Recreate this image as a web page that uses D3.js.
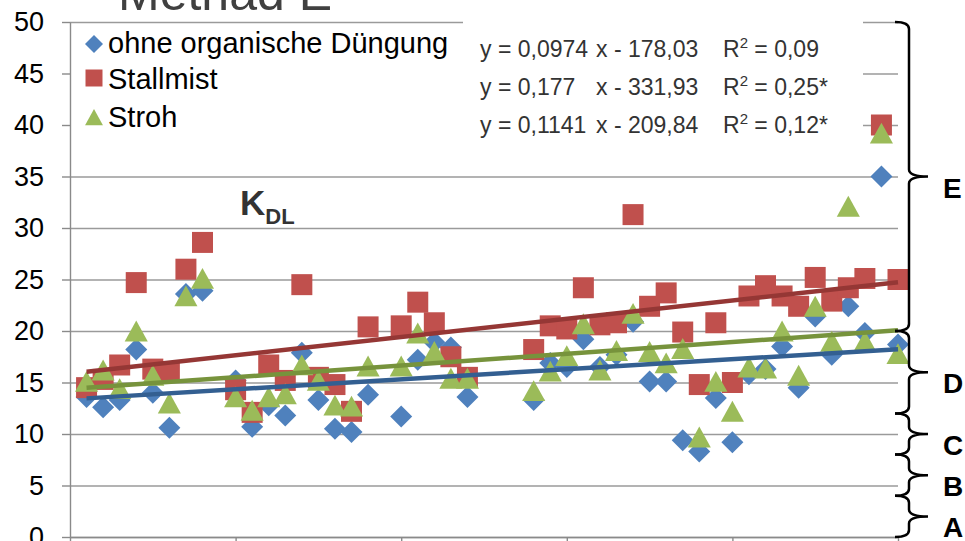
<!DOCTYPE html>
<html>
<head>
<meta charset="utf-8">
<script src="https://cdn.jsdelivr.net/npm/d3@7"></script>
<style>
  body { margin: 0; background: #fff; }
  svg { display: block; }
</style>
</head>
<body>
<div id="chart"></div>
<script>
//years with measurements (gaps 1974, 1984, 1990-1992)
var years = [1966, 1967, 1968, 1969, 1970, 1971, 1972, 1973,
  1975, 1976, 1977, 1978, 1979, 1980, 1981, 1982, 1983,
  1985, 1986, 1987, 1988, 1989,
  1993, 1994, 1995, 1996, 1997, 1998, 1999, 2000, 2001, 2002, 2003, 2004,
  2005, 2006, 2007, 2008, 2009, 2010, 2011, 2012, 2013, 2014, 2015];

//K_DL values per treatment
var ohneValues = [13.6, 12.6, 13.3, 18.2, 14.0, 10.6, 23.6, 23.9,
  15.2, 10.7, 12.8, 11.8, 17.9, 13.3, 10.5, 10.2, 13.8,
  11.7, 17.2, 18.9, 18.4, 13.6,
  13.3, 16.9, 16.5, 19.2, 16.5, 17.7, 20.9, 15.1, 15.1, 9.4, 8.3, 13.5,
  9.2, 15.8, 16.3, 18.5, 14.5, 21.4, 17.7, 22.4, 19.8, 35.0, 18.7];
var stallmistValues = [14.5, 15.3, 16.7, 24.7, 16.3, 16.0, 26.0, 28.6,
  14.3, 12.1, 16.7, 15.2, 24.5, 15.5, 14.8, 12.2, 20.4,
  20.5, 22.8, 20.8, 17.5, 15.5,
  18.2, 20.5, 20.2, 24.2, 20.6, 20.8, 31.3, 22.4, 23.7, 19.9, 14.8, 20.8,
  15.0, 23.4, 24.4, 23.4, 22.4, 25.2, 22.9, 24.2, 25.1, 40.0, 25.0];
var strohValues = [15.0, 16.1, 14.3, 19.9, 15.6, 12.9, 23.3, 25.0,
  13.5, 12.2, 13.5, 13.8, 16.6, 15.1, 12.7, 12.6, 16.5,
  16.5, 19.7, 17.9, 15.3, 15.3,
  14.1, 16.0, 17.5, 20.6, 16.1, 18.0, 21.6, 17.9, 16.8, 18.2, 9.6, 15.0,
  12.1, 16.4, 16.3, 19.9, 15.6, 22.3, 18.9, 32.0, 18.9, 39.1, 17.7];

var seriesNames = ["ohne organische Düngung", "Stallmist", "Stroh"];
var seriesSymbols = ["diamond", "square", "triangle"];
var seriesColors = ["#4F81BD", "#C0504D", "#9BBB59"];
var trendColors = ["#335F91", "#953735", "#77933C"];

//linear trends as printed on the chart
var slopes = [0.0974, 0.177, 0.1141];
var intercepts = [-178.03, -331.93, -209.84];
var slopeLabels = ["0,0974", "0,177", "0,1141"];
var interceptLabels = ["178,03", "331,93", "209,84"];
var r2Labels = ["0,09", "0,25*", "0,12*"];
var trendRange = [1966, 2015];

var yTicks = [0, 5, 10, 15, 20, 25, 30, 35, 40, 45, 50];
var xTicks = [1965, 1975, 1985, 1995, 2005, 2015];

//supply classes on the right
var classNames = ["A", "B", "C", "D", "E"];
var classBounds = [0, 4, 8, 12, 20, 50];

var width = 965, height = 541;

var svg = d3.select("#chart").append("svg")
  .attr("width", width)
  .attr("height", height);

var x = d3.scaleLinear().domain([1965, 2015]).range([70, 898]);
var y = d3.scaleLinear().domain([0, 50]).range([537, 22]);

//gridlines
svg.append("g")
  .attr("class", "grid")
  .attr("transform", "translate(70,0)")
  .call(d3.axisLeft(y).tickValues(yTicks).tickSize(-(898 - 70)).tickFormat(""))
  .call(function(g) { g.select(".domain").remove(); })
  .selectAll("line")
  .attr("stroke", "#9a9a9a")
  .attr("stroke-width", 1.4);

//white boxes of legend and equations hide the grid
svg.append("rect").attr("x", 71).attr("y", 24).attr("width", 393).attr("height", 116).attr("fill", "#fff");
svg.append("rect").attr("x", 463).attr("y", 0).attr("width", 400).attr("height", 140).attr("fill", "#fff");

//y axis
var yAxis = svg.append("g")
  .attr("transform", "translate(70,0)")
  .call(d3.axisLeft(y).tickValues(yTicks).tickSize(8).tickSizeOuter(0).tickPadding(18));
yAxis.selectAll("line").attr("stroke", "#8a8a8a").attr("stroke-width", 1.4);
yAxis.select(".domain").attr("stroke", "#8a8a8a").attr("stroke-width", 1.4);
yAxis.selectAll("text")
  .attr("font-family", "'Liberation Sans', Arial, sans-serif")
  .attr("font-size", 27)
  .attr("fill", "#000");

//x axis (labels fall outside the picture)
var xAxis = svg.append("g")
  .attr("transform", "translate(0,537)")
  .call(d3.axisBottom(x).tickValues(xTicks).tickSize(8).tickSizeOuter(0).tickFormat(""));
xAxis.selectAll("line").attr("stroke", "#8a8a8a").attr("stroke-width", 1.4);
xAxis.select(".domain").attr("stroke", "#8a8a8a").attr("stroke-width", 1.4);

//marker shapes
function markerPath(type, s) {
  if (type === "diamond") return "M0," + (-s) + "L" + s + ",0L0," + s + "L" + (-s) + ",0Z";
  if (type === "square") return "M" + (-s) + "," + (-s) + "h" + (2 * s) + "v" + (2 * s) + "h" + (-2 * s) + "Z";
  return "M0," + (-s * 1.05) + "L" + (s * 1.05) + "," + (s * 0.85) + "L" + (-s * 1.05) + "," + (s * 0.85) + "Z";
}

var allValues = [ohneValues, stallmistValues, strohValues];
var markerSizes = [11, 10.5, 11];

allValues.forEach(function(vals, k) {
  var pts = years.map(function(yr, i) { return {year: yr, value: vals[i]}; });
  svg.append("g")
    .attr("class", "series-" + k)
    .selectAll("path")
    .data(pts)
    .enter()
    .append("path")
    .attr("d", markerPath(seriesSymbols[k], markerSizes[k]))
    .attr("transform", function(d) { return "translate(" + x(d.year) + "," + y(d.value) + ")"; })
    .attr("fill", seriesColors[k]);
});

//trend lines on top of markers
var trendLine = d3.line()
  .x(function(d) { return x(d[0]); })
  .y(function(d) { return y(d[1]); });

slopes.forEach(function(m, k) {
  var ends = trendRange.map(function(yr) { return [yr, m * yr + intercepts[k]]; });
  svg.append("path")
    .attr("d", trendLine(ends))
    .attr("fill", "none")
    .attr("stroke", trendColors[k])
    .attr("stroke-width", 4.5);
});

//legend
var legend = svg.append("g").attr("class", "legend");
var legendY = [44, 78, 118];
var legendBase = [53, 89, 127];
seriesNames.forEach(function(name, k) {
  legend.append("path")
    .attr("d", markerPath(seriesSymbols[k], k === 0 ? 9 : 8.5))
    .attr("transform", "translate(94," + legendY[k] + ")")
    .attr("fill", seriesColors[k]);
  legend.append("text")
    .attr("x", 108)
    .attr("y", legendBase[k])
    .attr("font-family", "'Liberation Sans', Arial, sans-serif")
    .attr("font-size", 29)
    .attr("fill", "#000")
    .text(name);
});

//trend equations
var eqBase = [57, 95, 133];
var eqFont = "'Liberation Sans', Arial, sans-serif";
slopeLabels.forEach(function(s, k) {
  var g = svg.append("g")
    .attr("font-family", eqFont)
    .attr("font-size", 23)
    .attr("fill", "#333");
  g.append("text").attr("x", 480).attr("y", eqBase[k]).text("y = " + s);
  g.append("text").attr("x", 596).attr("y", eqBase[k]).text("x - " + interceptLabels[k]);
  var r = g.append("text").attr("x", 723).attr("y", eqBase[k]);
  r.append("tspan").text("R");
  r.append("tspan").attr("dy", -9).attr("font-size", 15).text("2");
  r.append("tspan").attr("dy", 9).text(" = " + r2Labels[k]);
});

//title (cut at the top) and parameter label
svg.append("text")
  .attr("x", 118)
  .attr("y", 10)
  .attr("font-family", "'Liberation Sans', Arial, sans-serif")
  .attr("font-size", 50)
  .attr("fill", "#404040")
  .text("Methad E");

var kdl = svg.append("text")
  .attr("x", 240)
  .attr("y", 215)
  .attr("font-family", "'Liberation Sans', Arial, sans-serif")
  .attr("font-weight", "bold")
  .attr("fill", "#333");
kdl.append("tspan").attr("font-size", 35).text("K");
kdl.append("tspan").attr("font-size", 22).attr("dy", 9).text("DL");

//curly braces for the classes
function bracePath(yt, yb) {
  var ym = (yt + yb) / 2;
  var bx = 909, hx = 895, tx = 928, c = 7;
  return "M" + hx + "," + yt + "Q" + bx + "," + yt + " " + bx + "," + (yt + c) +
    "L" + bx + "," + (ym - c) + "Q" + bx + "," + ym + " " + tx + "," + ym +
    "Q" + bx + "," + ym + " " + bx + "," + (ym + c) +
    "L" + bx + "," + (yb - c) + "Q" + bx + "," + yb + " " + hx + "," + yb;
}

var braces = svg.append("g").attr("class", "braces");
classNames.forEach(function(name, i) {
  var yt = y(classBounds[i + 1]), yb = y(classBounds[i]);
  braces.append("path")
    .attr("d", bracePath(yt, yb))
    .attr("fill", "none")
    .attr("stroke", "#000")
    .attr("stroke-width", 2.5);
  braces.append("text")
    .attr("x", 943)
    .attr("y", (yt + yb) / 2 + 21)
    .attr("font-family", "'Liberation Sans', Arial, sans-serif")
    .attr("font-weight", "bold")
    .attr("font-size", 28)
    .attr("fill", "#000")
    .text(name);
});
</script>
</body>
</html>
